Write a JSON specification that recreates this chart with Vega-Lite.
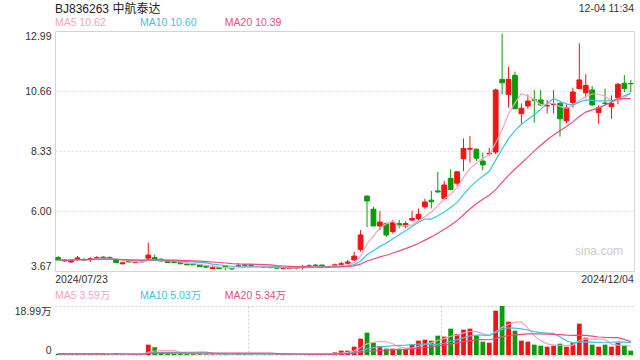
{
  "$schema": "https://vega.github.io/schema/vega-lite/v6.json",
  "padding": {"left": 14, "top": 2, "right": 6, "bottom": 6},
  "background": "white",
  "config": {"font": "Liberation Sans, Noto Sans CJK SC", "axis": {"labelFont": "Liberation Sans, Noto Sans CJK SC", "labelFontSize": 10.5, "labelColor": "#333333"}},
  "data": {"values": [
    {"d":"2024/07/23","o":4.19,"h":4.25,"l":4.06,"c":4.10,"v":0.5},
    {"d":"2024/07/24","o":4.10,"h":4.12,"l":4.03,"c":4.06,"v":0.4},
    {"d":"2024/07/25","o":4.02,"h":4.12,"l":4.00,"c":4.10,"v":0.4},
    {"d":"2024/07/26","o":4.15,"h":4.25,"l":4.06,"c":4.18,"v":0.4},
    {"d":"2024/07/29","o":4.12,"h":4.17,"l":4.05,"c":4.10,"v":0.3},
    {"d":"2024/07/30","o":4.12,"h":4.21,"l":4.02,"c":4.15,"v":0.4},
    {"d":"2024/07/31","o":4.17,"h":4.25,"l":4.10,"c":4.19,"v":0.4},
    {"d":"2024/08/01","o":4.21,"h":4.25,"l":4.15,"c":4.17,"v":0.4},
    {"d":"2024/08/02","o":4.20,"h":4.22,"l":4.12,"c":4.15,"v":0.3},
    {"d":"2024/08/05","o":4.10,"h":4.12,"l":3.98,"c":4.00,"v":0.5},
    {"d":"2024/08/06","o":3.95,"h":4.00,"l":3.93,"c":3.99,"v":0.3},
    {"d":"2024/08/07","o":4.05,"h":4.07,"l":4.00,"c":4.02,"v":0.3},
    {"d":"2024/08/08","o":4.00,"h":4.04,"l":3.98,"c":4.02,"v":0.3},
    {"d":"2024/08/09","o":4.02,"h":4.04,"l":4.00,"c":4.02,"v":0.2},
    {"d":"2024/08/12","o":4.17,"h":4.77,"l":4.10,"c":4.29,"v":4.0},
    {"d":"2024/08/13","o":4.19,"h":4.30,"l":4.08,"c":4.10,"v":3.0},
    {"d":"2024/08/14","o":4.13,"h":4.15,"l":4.04,"c":4.06,"v":0.8},
    {"d":"2024/08/15","o":4.05,"h":4.07,"l":3.99,"c":4.00,"v":0.6},
    {"d":"2024/08/16","o":4.03,"h":4.05,"l":3.98,"c":4.00,"v":0.5},
    {"d":"2024/08/19","o":3.99,"h":4.00,"l":3.94,"c":3.95,"v":0.5},
    {"d":"2024/08/20","o":3.94,"h":3.95,"l":3.90,"c":3.91,"v":0.4},
    {"d":"2024/08/21","o":3.94,"h":3.95,"l":3.90,"c":3.91,"v":0.4},
    {"d":"2024/08/22","o":3.91,"h":3.92,"l":3.83,"c":3.84,"v":0.5},
    {"d":"2024/08/23","o":3.86,"h":3.87,"l":3.79,"c":3.82,"v":0.4},
    {"d":"2024/08/26","o":3.76,"h":3.89,"l":3.75,"c":3.80,"v":0.3},
    {"d":"2024/08/27","o":3.80,"h":3.81,"l":3.75,"c":3.76,"v":0.3},
    {"d":"2024/08/28","o":3.86,"h":3.87,"l":3.70,"c":3.80,"v":0.4},
    {"d":"2024/08/29","o":3.77,"h":3.79,"l":3.70,"c":3.75,"v":0.3},
    {"d":"2024/08/30","o":3.86,"h":3.97,"l":3.84,"c":3.87,"v":0.8},
    {"d":"2024/09/02","o":3.91,"h":3.93,"l":3.88,"c":3.89,"v":0.4},
    {"d":"2024/09/03","o":3.91,"h":3.92,"l":3.88,"c":3.89,"v":0.3},
    {"d":"2024/09/04","o":3.84,"h":3.86,"l":3.82,"c":3.84,"v":0.3},
    {"d":"2024/09/05","o":3.84,"h":3.85,"l":3.81,"c":3.82,"v":0.3},
    {"d":"2024/09/06","o":3.85,"h":3.86,"l":3.79,"c":3.80,"v":0.4},
    {"d":"2024/09/09","o":3.83,"h":3.84,"l":3.77,"c":3.78,"v":0.3},
    {"d":"2024/09/10","o":3.76,"h":3.79,"l":3.75,"c":3.78,"v":0.4},
    {"d":"2024/09/11","o":3.76,"h":3.79,"l":3.75,"c":3.78,"v":0.3},
    {"d":"2024/09/12","o":3.79,"h":3.83,"l":3.72,"c":3.77,"v":0.3},
    {"d":"2024/09/13","o":3.81,"h":3.91,"l":3.72,"c":3.84,"v":0.4},
    {"d":"2024/09/18","o":3.85,"h":3.93,"l":3.83,"c":3.87,"v":0.3},
    {"d":"2024/09/19","o":3.90,"h":3.93,"l":3.83,"c":3.88,"v":0.3},
    {"d":"2024/09/20","o":3.90,"h":3.91,"l":3.85,"c":3.85,"v":0.4},
    {"d":"2024/09/23","o":3.83,"h":3.85,"l":3.81,"c":3.83,"v":0.4},
    {"d":"2024/09/24","o":3.88,"h":3.96,"l":3.83,"c":3.91,"v":1.0},
    {"d":"2024/09/25","o":3.93,"h":4.03,"l":3.90,"c":3.95,"v":1.68},
    {"d":"2024/09/26","o":3.97,"h":4.10,"l":3.93,"c":4.02,"v":1.68},
    {"d":"2024/09/27","o":4.10,"h":4.42,"l":4.06,"c":4.25,"v":3.23},
    {"d":"2024/09/30","o":4.51,"h":5.26,"l":4.42,"c":5.07,"v":6.33},
    {"d":"2024/10/08","o":6.58,"h":6.60,"l":5.38,"c":6.39,"v":8.66},
    {"d":"2024/10/09","o":6.07,"h":6.17,"l":5.42,"c":5.42,"v":4.78},
    {"d":"2024/10/10","o":5.42,"h":6.00,"l":5.25,"c":5.57,"v":3.49},
    {"d":"2024/10/11","o":5.51,"h":5.55,"l":4.99,"c":5.07,"v":2.45},
    {"d":"2024/10/14","o":5.20,"h":5.65,"l":5.13,"c":5.55,"v":2.45},
    {"d":"2024/10/15","o":5.51,"h":5.65,"l":5.33,"c":5.45,"v":2.45},
    {"d":"2024/10/16","o":5.42,"h":5.61,"l":5.33,"c":5.51,"v":2.45},
    {"d":"2024/10/17","o":5.65,"h":6.00,"l":5.61,"c":5.71,"v":4.01},
    {"d":"2024/10/18","o":5.71,"h":6.09,"l":5.65,"c":5.87,"v":5.56},
    {"d":"2024/10/21","o":6.16,"h":6.48,"l":6.09,"c":6.35,"v":5.94},
    {"d":"2024/10/22","o":6.42,"h":6.78,"l":6.10,"c":6.36,"v":5.56},
    {"d":"2024/10/23","o":6.78,"h":7.52,"l":6.71,"c":6.74,"v":7.49},
    {"d":"2024/10/24","o":6.48,"h":7.17,"l":6.43,"c":7.01,"v":7.11},
    {"d":"2024/10/25","o":7.27,"h":7.62,"l":6.80,"c":6.84,"v":10.21},
    {"d":"2024/10/28","o":7.08,"h":7.55,"l":6.97,"c":7.52,"v":8.14},
    {"d":"2024/10/29","o":8.03,"h":8.82,"l":7.55,"c":8.43,"v":9.82},
    {"d":"2024/10/30","o":8.40,"h":8.91,"l":7.88,"c":8.43,"v":10.21},
    {"d":"2024/10/31","o":8.40,"h":8.42,"l":7.94,"c":8.05,"v":7.49},
    {"d":"2024/11/01","o":7.94,"h":8.27,"l":7.58,"c":7.79,"v":5.17},
    {"d":"2024/11/04","o":8.22,"h":8.46,"l":8.16,"c":8.24,"v":4.78},
    {"d":"2024/11/05","o":8.29,"h":10.75,"l":8.20,"c":10.70,"v":17.18},
    {"d":"2024/11/06","o":11.11,"h":12.88,"l":10.53,"c":10.98,"v":18.99},
    {"d":"2024/11/07","o":10.53,"h":11.60,"l":10.01,"c":11.11,"v":12.92},
    {"d":"2024/11/08","o":11.27,"h":11.41,"l":9.97,"c":9.97,"v":9.43},
    {"d":"2024/11/11","o":9.78,"h":10.18,"l":9.39,"c":9.99,"v":5.56},
    {"d":"2024/11/12","o":10.08,"h":10.53,"l":9.97,"c":10.27,"v":5.17},
    {"d":"2024/11/13","o":10.32,"h":10.70,"l":9.43,"c":10.30,"v":4.01},
    {"d":"2024/11/14","o":10.31,"h":10.70,"l":10.08,"c":10.12,"v":3.62},
    {"d":"2024/11/15","o":10.08,"h":10.31,"l":9.79,"c":10.10,"v":3.23},
    {"d":"2024/11/18","o":10.13,"h":10.69,"l":9.79,"c":10.15,"v":3.62},
    {"d":"2024/11/19","o":10.18,"h":10.23,"l":8.89,"c":9.58,"v":4.39},
    {"d":"2024/11/20","o":9.50,"h":10.14,"l":9.41,"c":10.01,"v":3.23},
    {"d":"2024/11/21","o":10.21,"h":10.79,"l":10.01,"c":10.62,"v":4.78},
    {"d":"2024/11/22","o":10.75,"h":12.51,"l":10.75,"c":11.09,"v":12.14},
    {"d":"2024/11/25","o":10.59,"h":11.31,"l":10.40,"c":10.88,"v":6.72},
    {"d":"2024/11/26","o":10.70,"h":10.85,"l":10.08,"c":10.12,"v":4.01},
    {"d":"2024/11/27","o":9.82,"h":10.10,"l":9.39,"c":10.01,"v":3.23},
    {"d":"2024/11/28","o":10.19,"h":10.75,"l":10.12,"c":10.18,"v":4.01},
    {"d":"2024/11/29","o":10.05,"h":10.49,"l":9.58,"c":10.18,"v":3.23},
    {"d":"2024/12/02","o":10.40,"h":10.98,"l":10.14,"c":10.92,"v":4.78},
    {"d":"2024/12/03","o":10.96,"h":11.28,"l":10.62,"c":10.75,"v":3.62},
    {"d":"2024/12/04","o":10.95,"h":11.09,"l":10.62,"c":10.94,"v":1.68}
  ]},
  "bounds": "flush",
  "spacing": 35,
  "vconcat": [
    {
      "width": 579,
      "height": 240,
      "view": {"stroke": "#d4d4d4", "strokeWidth": 1},
      "layer": [
        {
          "mark": {"type": "rule", "strokeWidth": 1},
          "encoding": {
            "x": {"field": "d", "type": "ordinal", "scale": {"paddingInner": 0, "paddingOuter": 0},
              "axis": {"values": ["2024/07/23", "2024/12/04"], "labelAngle": 0, "ticks": false, "domain": false, "grid": false, "title": null, "labelPadding": 3,
                "labelAlign": {"condition": {"test": "datum.value == '2024/07/23'", "value": "left"}, "value": "right"},
                "labelOffset": {"condition": {"test": "datum.value == '2024/07/23'", "value": -3}, "value": 3}}},
            "y": {"field": "l", "type": "quantitative", "scale": {"domain": [3.67, 12.99], "nice": false, "zero": false},
              "axis": {"values": [3.67, 6, 8.33, 10.66, 12.99], "format": ".2f", "labelFlush": true, "ticks": false, "domain": false, "title": null, "labelPadding": 4,
                "grid": true, "gridColor": "#dddddd", "gridDash": [2, 2],
                "gridOpacity": {"condition": {"test": "datum.value < 3.7 || datum.value > 12.9", "value": 0}, "value": 1}}},
            "y2": {"field": "h"},
            "color": {"condition": [{"test": "datum.c > datum.o", "value": "#f01414"}, {"test": "datum.c < datum.o", "value": "#0a9a0a"}], "value": "#888888"}
          }
        },
        {
          "mark": {"type": "bar", "width": {"band": 0.74}, "strokeWidth": 1},
          "encoding": {
            "x": {"field": "d", "type": "ordinal"},
            "y": {"field": "o", "type": "quantitative"},
            "y2": {"field": "c"},
            "color": {"condition": [{"test": "datum.c > datum.o", "value": "#f01414"}, {"test": "datum.c < datum.o", "value": "#0a9a0a"}], "value": "#888888"},
            "stroke": {"condition": [{"test": "datum.c > datum.o", "value": "#f01414"}, {"test": "datum.c < datum.o", "value": "#0a9a0a"}], "value": "#888888"}
          }
        },
        {
          "transform": [{"window": [{"op": "mean", "field": "c", "as": "ma"}], "frame": [-4, 0], "sort": [{"field": "d"}]}],
          "mark": {"type": "line", "color": "#f7a3c4", "strokeWidth": 1.2},
          "encoding": {"x": {"field": "d", "type": "ordinal"}, "y": {"field": "ma", "type": "quantitative"}}
        },
        {
          "transform": [{"window": [{"op": "mean", "field": "c", "as": "ma"}], "frame": [-9, 0], "sort": [{"field": "d"}]}],
          "mark": {"type": "line", "color": "#3fc3de", "strokeWidth": 1.2},
          "encoding": {"x": {"field": "d", "type": "ordinal"}, "y": {"field": "ma", "type": "quantitative"}}
        },
        {
          "transform": [{"window": [{"op": "mean", "field": "c", "as": "ma"}], "frame": [-19, 0], "sort": [{"field": "d"}]}],
          "mark": {"type": "line", "color": "#ee4c80", "strokeWidth": 1.2},
          "encoding": {"x": {"field": "d", "type": "ordinal"}, "y": {"field": "ma", "type": "quantitative"}}
        },
        {
          "data": {"values": [{}]},
          "mark": {"type": "text", "align": "left", "baseline": "middle", "fontSize": 12, "color": "#222222"},
          "encoding": {"x": {"datum": "2024/07/23", "type": "ordinal", "bandPosition": 0}, "y": {"datum": 13.844, "type": "quantitative"}, "text": {"value": "BJ836263 中航泰达"}}
        },
        {
          "data": {"values": [{}]},
          "mark": {"type": "text", "align": "right", "baseline": "middle", "fontSize": 10.5, "color": "#333333"},
          "encoding": {"x": {"datum": "2024/12/04", "type": "ordinal", "bandPosition": 1}, "y": {"datum": 13.844, "type": "quantitative"}, "text": {"value": "12-04 11:34"}}
        },
        {
          "data": {"values": [{}]},
          "mark": {"type": "text", "align": "left", "baseline": "middle", "fontSize": 10.5, "color": "#f7a3c4"},
          "encoding": {"x": {"datum": "2024/07/23", "type": "ordinal", "bandPosition": 0}, "y": {"datum": 13.30, "type": "quantitative"}, "text": {"value": "MA5 10.62"}}
        },
        {
          "data": {"values": [{}]},
          "mark": {"type": "text", "align": "left", "baseline": "middle", "fontSize": 10.5, "color": "#3fc3de"},
          "encoding": {"x": {"datum": "2024/08/09", "type": "ordinal", "bandPosition": 0.2}, "y": {"datum": 13.30, "type": "quantitative"}, "text": {"value": "MA10 10.60"}}
        },
        {
          "data": {"values": [{}]},
          "mark": {"type": "text", "align": "left", "baseline": "middle", "fontSize": 10.5, "color": "#ee4c80"},
          "encoding": {"x": {"datum": "2024/08/28", "type": "ordinal", "bandPosition": 0.4}, "y": {"datum": 13.30, "type": "quantitative"}, "text": {"value": "MA20 10.39"}}
        },
        {
          "data": {"values": [{}]},
          "mark": {"type": "text", "align": "right", "baseline": "middle", "fontSize": 12, "color": "#cccccc"},
          "encoding": {"x": {"datum": "2024/12/03", "type": "ordinal", "bandPosition": 0.3}, "y": {"datum": 4.466, "type": "quantitative"}, "text": {"value": "sina.com"}}
        }
      ]
    },
    {
      "width": 579,
      "height": 49,
      "view": {"stroke": null},
      "layer": [
        {
          "mark": {"type": "bar", "width": {"band": 0.74}},
          "encoding": {
            "x": {"field": "d", "type": "ordinal", "scale": {"paddingInner": 0, "paddingOuter": 0},
              "axis": {"values": ["2024/09/03", "2024/10/24"], "bandPosition": 0, "grid": true, "gridColor": "#cccccc", "gridDash": [2, 2], "labels": false, "ticks": false, "domain": false, "title": null}},
            "y": {"field": "v", "type": "quantitative", "scale": {"domain": [0, 18.99], "nice": false},
              "axis": {"values": [0, 18.99], "labelExpr": "datum.value == 0 ? '0' : format(datum.value, '.2f') + '万'", "labelFlush": true, "ticks": false, "domain": false, "title": null, "labelPadding": 4,
                "grid": true, "gridColor": "#cccccc", "gridDash": [2, 2]}},
            "color": {"condition": [{"test": "datum.c > datum.o", "value": "#f01414"}, {"test": "datum.c < datum.o", "value": "#0a9a0a"}], "value": "#888888"}
          }
        },
        {
          "transform": [{"window": [{"op": "mean", "field": "v", "as": "ma"}], "frame": [-4, 0], "sort": [{"field": "d"}]}],
          "mark": {"type": "line", "color": "#f7a3c4", "strokeWidth": 1.2},
          "encoding": {"x": {"field": "d", "type": "ordinal"}, "y": {"field": "ma", "type": "quantitative"}}
        },
        {
          "transform": [{"window": [{"op": "mean", "field": "v", "as": "ma"}], "frame": [-9, 0], "sort": [{"field": "d"}]}],
          "mark": {"type": "line", "color": "#3fc3de", "strokeWidth": 1.2},
          "encoding": {"x": {"field": "d", "type": "ordinal"}, "y": {"field": "ma", "type": "quantitative"}}
        },
        {
          "transform": [{"window": [{"op": "mean", "field": "v", "as": "ma"}], "frame": [-19, 0], "sort": [{"field": "d"}]}],
          "mark": {"type": "line", "color": "#ee4c80", "strokeWidth": 1.2},
          "encoding": {"x": {"field": "d", "type": "ordinal"}, "y": {"field": "ma", "type": "quantitative"}}
        },
        {
          "data": {"values": [{}]},
          "mark": {"type": "text", "align": "left", "baseline": "middle", "fontSize": 10.5, "color": "#f7a3c4"},
          "encoding": {"x": {"datum": "2024/07/23", "type": "ordinal", "bandPosition": 0}, "y": {"datum": 22.87, "type": "quantitative"}, "text": {"value": "MA5 3.59万"}}
        },
        {
          "data": {"values": [{}]},
          "mark": {"type": "text", "align": "left", "baseline": "middle", "fontSize": 10.5, "color": "#3fc3de"},
          "encoding": {"x": {"datum": "2024/08/09", "type": "ordinal", "bandPosition": 0.2}, "y": {"datum": 22.87, "type": "quantitative"}, "text": {"value": "MA10 5.03万"}}
        },
        {
          "data": {"values": [{}]},
          "mark": {"type": "text", "align": "left", "baseline": "middle", "fontSize": 10.5, "color": "#ee4c80"},
          "encoding": {"x": {"datum": "2024/08/28", "type": "ordinal", "bandPosition": 0.4}, "y": {"datum": 22.87, "type": "quantitative"}, "text": {"value": "MA20 5.34万"}}
        }
      ]
    }
  ]
}
